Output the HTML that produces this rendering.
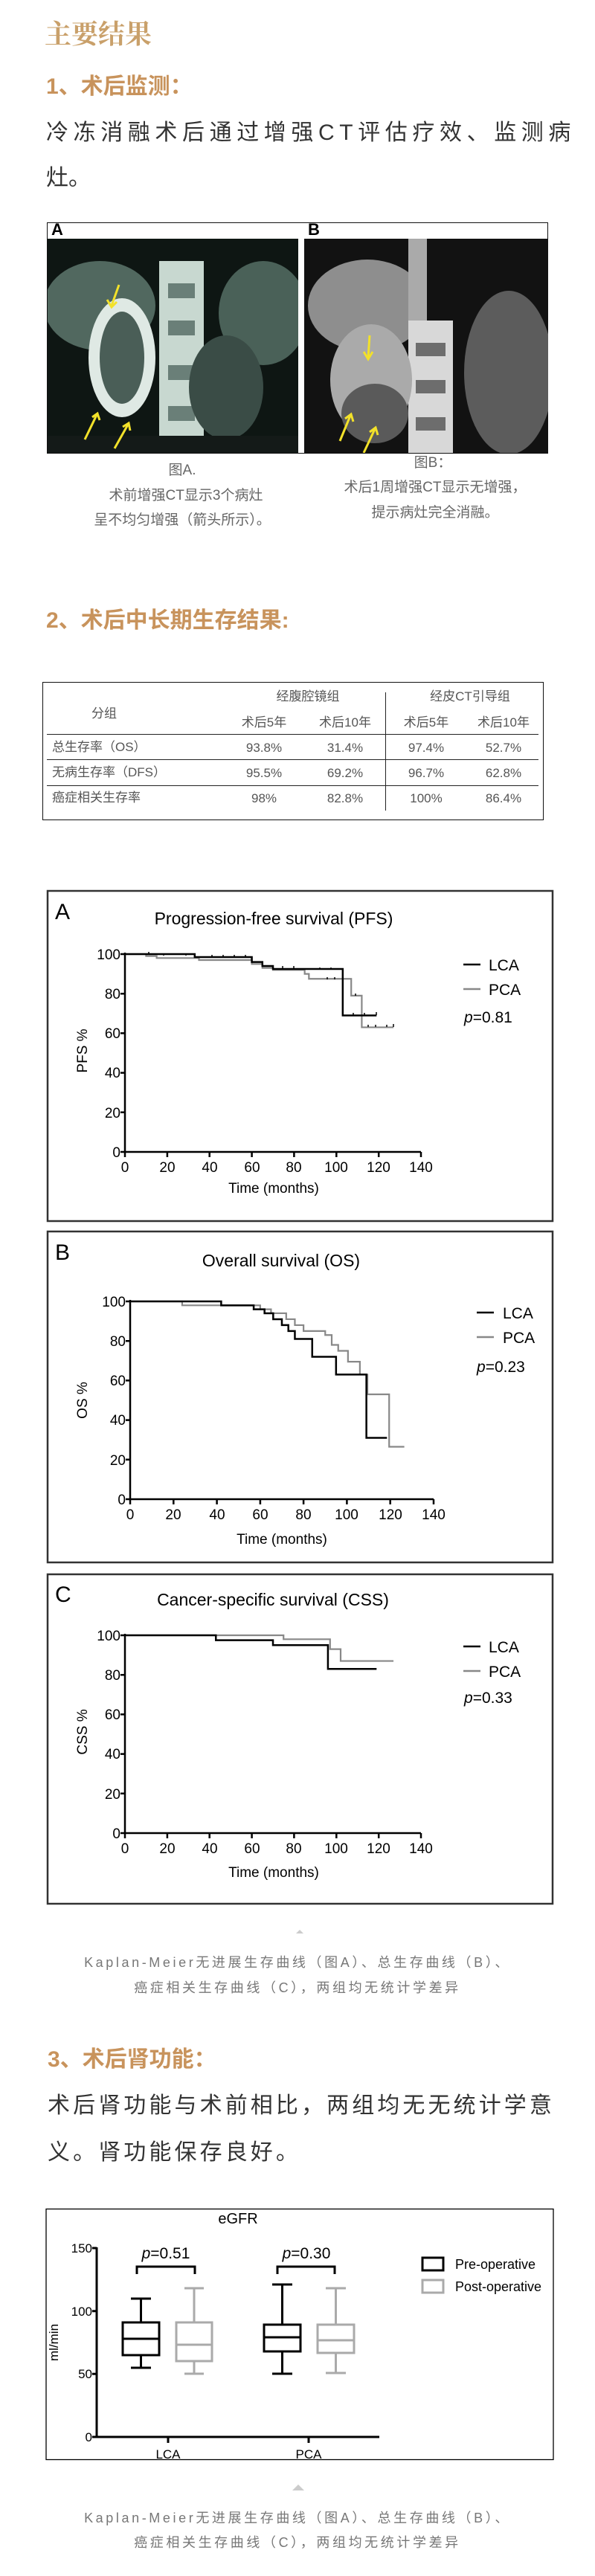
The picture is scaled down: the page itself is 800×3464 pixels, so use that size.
<!DOCTYPE html>
<html><head><meta charset="utf-8">
<style>
*{margin:0;padding:0;box-sizing:border-box}
body{width:800px;height:3464px;background:#fff;position:relative;overflow:hidden;font-family:"Liberation Sans","Noto Sans CJK SC",sans-serif}
.a{position:absolute;white-space:nowrap}
.h{color:#c8935c;font-weight:bold;font-family:"Liberation Sans","Noto Sans CJK SC",sans-serif}
.body{color:#333;font-size:30px;line-height:30px}
.cap{color:#666;font-size:19px;line-height:20px;text-align:center}
.cap2{color:#777;font-size:18px;line-height:18px;letter-spacing:3.6px;text-align:center;left:0;width:800px}
.tb{color:#555;font-size:17px;line-height:18px}
</style></head><body>

<div class="a" style="left:60px;top:25px;font-size:36px;line-height:38px;color:#c9a06a;font-weight:bold;font-family:'Noto Serif CJK SC',serif">主要结果</div>
<div class="a h" style="left:62px;top:101px;font-size:30px;line-height:32px">1、术后监测：</div>
<div class="a body" style="left:62px;top:164px;letter-spacing:6.6px">冷冻消融术后通过增强CT评估疗效、监测病</div>
<div class="a body" style="left:62px;top:225px">灶。</div>

<!-- CT images -->
<div class="a" style="left:63px;top:299px;width:674px;height:311px;border:1.5px solid #111;background:#fff"></div>
<div class="a" style="left:69px;top:296px;font:bold 22px/26px 'Liberation Sans',sans-serif">A</div>
<div class="a" style="left:414px;top:296px;font:bold 22px/26px 'Liberation Sans',sans-serif">B</div>
<svg class="a" style="left:64px;top:321px" width="337" height="288" viewBox="0 0 337 288">
<rect width="337" height="288" fill="#0e1613"/>
<ellipse cx="70" cy="90" rx="75" ry="60" fill="#51685f"/>
<ellipse cx="290" cy="100" rx="60" ry="70" fill="#4a6158"/>
<rect x="150" y="30" width="60" height="258" fill="#c8d8d0"/>
<rect x="162" y="60" width="36" height="20" fill="#6a7f78"/><rect x="162" y="110" width="36" height="20" fill="#6a7f78"/><rect x="162" y="170" width="36" height="20" fill="#6a7f78"/><rect x="162" y="225" width="36" height="20" fill="#6a7f78"/>
<ellipse cx="100" cy="160" rx="45" ry="80" fill="#dfe9e4"/>
<ellipse cx="100" cy="160" rx="30" ry="62" fill="#4a5e57"/>
<ellipse cx="240" cy="200" rx="50" ry="70" fill="#3a4c46"/>
<rect x="0" y="265" width="337" height="23" fill="#141a18"/>
<g stroke="#f2e12a" stroke-width="3" fill="none"><path d="M96 62 L86 90 M80 82 L86 92 L93 85"/><path d="M50 270 L66 237 M60 240 L67 235 L70 244"/><path d="M90 282 L108 250 M101 253 L109 248 L111 258"/></g>
</svg>
<svg class="a" style="left:409px;top:321px" width="328" height="288" viewBox="0 0 328 288">
<rect width="328" height="288" fill="#121212"/>
<ellipse cx="85" cy="90" rx="80" ry="62" fill="#8e8e8e"/>
<ellipse cx="275" cy="180" rx="60" ry="110" fill="#5c5c5c"/>
<rect x="140" y="0" width="25" height="120" fill="#aaa"/>
<rect x="140" y="110" width="60" height="178" fill="#d8d8d8"/>
<rect x="150" y="140" width="40" height="18" fill="#6d6d6d"/><rect x="150" y="190" width="40" height="18" fill="#6d6d6d"/><rect x="150" y="240" width="40" height="18" fill="#6d6d6d"/>
<ellipse cx="90" cy="190" rx="55" ry="75" fill="#aaa"/>
<ellipse cx="95" cy="235" rx="45" ry="40" fill="#5a5a5a"/>
<g stroke="#f2e12a" stroke-width="3" fill="none"><path d="M88 130 L86 160 M80 152 L86 162 L92 152"/><path d="M48 272 L62 238 M55 242 L63 236 L66 246"/><path d="M80 288 L95 256 M88 260 L96 254 L99 264"/></g>
</svg>
<div class="a cap" style="left:145px;top:623px;width:200px">图A.</div>
<div class="a cap" style="left:100px;top:657px;width:300px">术前增强CT显示3个病灶</div>
<div class="a cap" style="left:90px;top:690px;width:310px">呈不均匀增强（箭头所示）。</div>
<div class="a cap" style="left:482px;top:613px;width:200px">图B：</div>
<div class="a cap" style="left:430px;top:646px;width:310px">术后1周增强CT显示无增强，</div>
<div class="a cap" style="left:430px;top:680px;width:310px">提示病灶完全消融。</div>

<div class="a h" style="left:62px;top:819px;font-size:30px;line-height:32px">2、术后中长期生存结果:</div>

<!-- table -->
<div class="a" style="left:57px;top:917px;width:674px;height:186px;border:1.5px solid #111"></div>
<div class="a" style="left:63px;top:987px;width:661px;border-top:1.2px solid #222"></div>
<div class="a" style="left:63px;top:1021px;width:661px;border-top:1.2px solid #222"></div>
<div class="a" style="left:63px;top:1056px;width:661px;border-top:1.2px solid #222"></div>
<div class="a" style="left:518px;top:931px;height:159px;border-left:1.2px solid #222"></div>
<div class="a tb" style="left:364px;top:928px;width:100px;text-align:center">经腹腔镜组</div>
<div class="a tb" style="left:572px;top:928px;width:120px;text-align:center">经皮CT引导组</div>
<div class="a tb" style="left:110px;top:951px;width:60px;text-align:center">分组</div>
<div class="a tb" style="left:315px;top:963px;width:80px;text-align:center">术后5年</div>
<div class="a tb" style="left:424px;top:963px;width:80px;text-align:center">术后10年</div>
<div class="a tb" style="left:533px;top:963px;width:80px;text-align:center">术后5年</div>
<div class="a tb" style="left:637px;top:963px;width:80px;text-align:center">术后10年</div>
<div class="a tb" style="left:70px;top:996px">总生存率（OS）</div>
<div class="a tb" style="left:70px;top:1030px">无病生存率（DFS）</div>
<div class="a tb" style="left:70px;top:1064px">癌症相关生存率</div>
<div class="a tb" style="left:315px;top:997px;width:80px;text-align:center">93.8%</div>
<div class="a tb" style="left:424px;top:997px;width:80px;text-align:center">31.4%</div>
<div class="a tb" style="left:533px;top:997px;width:80px;text-align:center">97.4%</div>
<div class="a tb" style="left:637px;top:997px;width:80px;text-align:center">52.7%</div>
<div class="a tb" style="left:315px;top:1031px;width:80px;text-align:center">95.5%</div>
<div class="a tb" style="left:424px;top:1031px;width:80px;text-align:center">69.2%</div>
<div class="a tb" style="left:533px;top:1031px;width:80px;text-align:center">96.7%</div>
<div class="a tb" style="left:637px;top:1031px;width:80px;text-align:center">62.8%</div>
<div class="a tb" style="left:315px;top:1065px;width:80px;text-align:center">98%</div>
<div class="a tb" style="left:424px;top:1065px;width:80px;text-align:center">82.8%</div>
<div class="a tb" style="left:533px;top:1065px;width:80px;text-align:center">100%</div>
<div class="a tb" style="left:637px;top:1065px;width:80px;text-align:center">86.4%</div>

<!-- KM charts -->
<svg class="a" style="left:0;top:0" width="800" height="2600" viewBox="0 0 800 2600" font-family="Liberation Sans, Arial, sans-serif">
<g fill="none" stroke="#333" stroke-width="2.5">
<rect x="64" y="1198" width="679" height="444"/>
<rect x="64" y="1656" width="679" height="445"/>
<rect x="64" y="2117" width="679" height="443"/>
</g>
<!-- Panel A -->
<text x="74" y="1236" font-size="30">A</text>
<text x="368" y="1243" font-size="23" text-anchor="middle">Progression-free survival (PFS)</text>
<g stroke="#000" stroke-width="2.5" fill="none"><path d="M168 1281 V1549 H566"/>
<path d="M162 1283H168M162 1336.2H168M162 1389.4H168M162 1442.6H168M162 1495.8H168M162 1549H168"/>
<path d="M168 1549v7M224.9 1549v7M281.7 1549v7M338.6 1549v7M395.4 1549v7M452.3 1549v7M509.2 1549v7M566 1549v7"/></g>
<g font-size="19" text-anchor="end"><text x="162" y="1290">100</text><text x="162" y="1343">80</text><text x="162" y="1396">60</text><text x="162" y="1449">40</text><text x="162" y="1503">20</text><text x="162" y="1556">0</text></g>
<g font-size="19" text-anchor="middle"><text x="168" y="1576">0</text><text x="225" y="1576">20</text><text x="282" y="1576">40</text><text x="339" y="1576">60</text><text x="395" y="1576">80</text><text x="452" y="1576">100</text><text x="509" y="1576">120</text><text x="566" y="1576">140</text></g>
<text x="368" y="1604" font-size="19" text-anchor="middle">Time (months)</text>
<text transform="translate(117,1413) rotate(-90)" font-size="19" text-anchor="middle">PFS %</text>
<g transform="translate(168,1549) scale(2.843,-2.66)" fill="none">
<path vector-effect="non-scaling-stroke" stroke="#888" stroke-width="2.2" d="M0 100H10V99H15V98H35V97H60V95H65V93H70V92H85V90H87V87.5H107V79H112V63H127"/>
<path vector-effect="non-scaling-stroke" stroke="#000" stroke-width="2.5" d="M0 100H33V98.5H60V96H65V94H70V92.5H103V69H119"/>
</g>
<g stroke="#000" stroke-width="1.5"><path d="M200 1283v-3M220 1285v-3M250 1285v-3M285 1287v-3M300 1287v-3M315 1287v-3M330 1287v-3M380 1302v-3M395 1302v-3M430 1304v-3M445 1304v-3M475 1365v-3M490 1365v-3M506 1365v-4M495 1381v-3M505 1381v-3M520 1381v-3M529 1381v-4M478 1339v-3M450 1317v-3M440 1317v-3"/></g>
<path d="M623 1297h23" stroke="#000" stroke-width="2.5"/><path d="M623 1330h23" stroke="#888" stroke-width="2.5"/>
<text x="657" y="1305" font-size="21">LCA</text><text x="657" y="1338" font-size="21">PCA</text>
<text x="624" y="1375" font-size="21"><tspan font-style="italic">p</tspan>=0.81</text>

<!-- Panel B -->
<text x="74" y="1694" font-size="30">B</text>
<text x="378" y="1703" font-size="23" text-anchor="middle">Overall survival (OS)</text>
<g stroke="#000" stroke-width="2.5" fill="none"><path d="M175 1748 V2016 H583"/>
<path d="M169 1750H175M169 1803.2H175M169 1856.4H175M169 1909.6H175M169 1962.8H175M169 2016H175"/>
<path d="M175 2016v7M233.3 2016v7M291.6 2016v7M349.9 2016v7M408.1 2016v7M466.4 2016v7M524.7 2016v7M583 2016v7"/></g>
<g font-size="19" text-anchor="end"><text x="169" y="1757">100</text><text x="169" y="1810">80</text><text x="169" y="1863">60</text><text x="169" y="1916">40</text><text x="169" y="1970">20</text><text x="169" y="2023">0</text></g>
<g font-size="19" text-anchor="middle"><text x="175" y="2043">0</text><text x="233" y="2043">20</text><text x="292" y="2043">40</text><text x="350" y="2043">60</text><text x="408" y="2043">80</text><text x="466" y="2043">100</text><text x="525" y="2043">120</text><text x="583" y="2043">140</text></g>
<text x="379" y="2076" font-size="19" text-anchor="middle">Time (months)</text>
<text transform="translate(117,1883) rotate(-90)" font-size="19" text-anchor="middle">OS %</text>
<g transform="translate(175,2016) scale(2.914,-2.66)" fill="none">
<path vector-effect="non-scaling-stroke" stroke="#888" stroke-width="2.2" d="M0 100H24V98H60V96H65V94H72V91H76V88H80V85H90V83H93V78H96V75H100.5V69.5H106V63H109.5V53H119.5V26.5H126.5"/>
<path vector-effect="non-scaling-stroke" stroke="#000" stroke-width="2.5" d="M0 100H42V98H57V96H62V94H66V91H70V88H73V85H76V81H84V72H95V63H109V31H118.5"/>
</g>
<path d="M641 1765h23" stroke="#000" stroke-width="2.5"/><path d="M641 1798h23" stroke="#888" stroke-width="2.5"/>
<text x="676" y="1773" font-size="21">LCA</text><text x="676" y="1806" font-size="21">PCA</text>
<text x="641" y="1845" font-size="21"><tspan font-style="italic">p</tspan>=0.23</text>

<!-- Panel C -->
<text x="74" y="2154" font-size="30">C</text>
<text x="367" y="2159" font-size="23" text-anchor="middle">Cancer-specific survival (CSS)</text>
<g stroke="#000" stroke-width="2.5" fill="none"><path d="M168 2197 V2465 H566"/>
<path d="M162 2199H168M162 2252.2H168M162 2305.4H168M162 2358.6H168M162 2411.8H168M162 2465H168"/>
<path d="M168 2465v7M224.9 2465v7M281.7 2465v7M338.6 2465v7M395.4 2465v7M452.3 2465v7M509.2 2465v7M566 2465v7"/></g>
<g font-size="19" text-anchor="end"><text x="162" y="2206">100</text><text x="162" y="2259">80</text><text x="162" y="2312">60</text><text x="162" y="2365">40</text><text x="162" y="2419">20</text><text x="162" y="2472">0</text></g>
<g font-size="19" text-anchor="middle"><text x="168" y="2492">0</text><text x="225" y="2492">20</text><text x="282" y="2492">40</text><text x="339" y="2492">60</text><text x="395" y="2492">80</text><text x="452" y="2492">100</text><text x="509" y="2492">120</text><text x="566" y="2492">140</text></g>
<text x="368" y="2524" font-size="19" text-anchor="middle">Time (months)</text>
<text transform="translate(117,2329) rotate(-90)" font-size="19" text-anchor="middle">CSS %</text>
<g transform="translate(168,2465) scale(2.843,-2.66)" fill="none">
<path vector-effect="non-scaling-stroke" stroke="#888" stroke-width="2.2" d="M0 100H75V98H97V93H102V87H127"/>
<path vector-effect="non-scaling-stroke" stroke="#000" stroke-width="2.5" d="M0 100H43V97.5H70V95H96V83H119"/>
</g>
<path d="M623 2214h23" stroke="#000" stroke-width="2.5"/><path d="M623 2247h23" stroke="#888" stroke-width="2.5"/>
<text x="657" y="2222" font-size="21">LCA</text><text x="657" y="2255" font-size="21">PCA</text>
<text x="624" y="2290" font-size="21"><tspan font-style="italic">p</tspan>=0.33</text>
<!-- triangle -->
<path d="M395 2603 L403 2595 L411 2603 Z" fill="#ccc"/>
</svg>

<div class="a cap2" style="top:2630px">Kaplan-Meier无进展生存曲线（图A）、总生存曲线（B）、</div>
<div class="a cap2" style="top:2664px">癌症相关生存曲线（C），两组均无统计学差异</div>

<div class="a h" style="left:64px;top:2754px;font-size:30px;line-height:32px">3、术后肾功能：</div>
<div class="a body" style="left:64px;top:2817px;letter-spacing:4.1px">术后肾功能与术前相比，两组均无无统计学意</div>
<div class="a body" style="left:64px;top:2880px;letter-spacing:4.1px">义。肾功能保存良好。</div>

<!-- eGFR chart -->
<svg class="a" style="left:0;top:2960px" width="800" height="504" viewBox="0 2960 800 504" font-family="Liberation Sans, Arial, sans-serif">
<rect x="62" y="2970.5" width="682" height="337" fill="none" stroke="#000" stroke-width="1.3"/>
<text x="320" y="2990" font-size="20" text-anchor="middle">eGFR</text>
<g stroke="#000" stroke-width="3" fill="none"><path d="M130 3022 V3277 H510"/>
<path d="M124 3023H130M124 3107.7H130M124 3192.3H130M124 3277H130M226 3277v8M415 3277v8"/>
<path d="M184 3058 V3048 H262 V3058M373 3058 V3048 H450 V3058"/></g>
<g font-size="17" text-anchor="end"><text x="124" y="3029">150</text><text x="124" y="3114">100</text><text x="124" y="3198">50</text><text x="124" y="3283">0</text></g>
<text x="226" y="3306" font-size="17" text-anchor="middle">LCA</text>
<text x="415" y="3306" font-size="17" text-anchor="middle">PCA</text>
<text transform="translate(78,3150) rotate(-90)" font-size="17" text-anchor="middle">ml/min</text>
<text x="223" y="3037" font-size="21" text-anchor="middle"><tspan font-style="italic">p</tspan>=0.51</text>
<text x="412" y="3037" font-size="21" text-anchor="middle"><tspan font-style="italic">p</tspan>=0.30</text>
<!-- y(v)=3277-1.693v -->
<g stroke="#000" stroke-width="3" fill="none">
<rect x="165" y="3123" width="49" height="44"/><path d="M165 3145H214M189.5 3123V3091M176 3091H203M189.5 3167V3184M176 3184H203"/>
<rect x="355" y="3126" width="49" height="36"/><path d="M355 3143H404M379.5 3126V3072M366 3072H393M379.5 3162V3192M366 3192H393"/>
<rect x="568" y="3036" width="28" height="17"/>
</g>
<g stroke="#aaa" stroke-width="3" fill="none">
<rect x="237" y="3123" width="48" height="52"/><path d="M237 3153H285M261 3123V3077M248 3077H274M261 3175V3192M248 3192H274"/>
<rect x="427" y="3126" width="49" height="38"/><path d="M427 3147H476M451.5 3126V3077M438 3077H465M451.5 3164V3191M438 3191H465"/>
<rect x="568" y="3066" width="28" height="17"/>
</g>
<text x="612" y="3051" font-size="18">Pre-operative</text>
<text x="612" y="3081" font-size="18">Post-operative</text>
<path d="M393 3349 L401 3341 L409 3349 Z" fill="#ccc"/>
</svg>
<div class="a cap2" style="top:3377px">Kaplan-Meier无进展生存曲线（图A）、总生存曲线（B）、</div>
<div class="a cap2" style="top:3410px">癌症相关生存曲线（C），两组均无统计学差异</div>
</body></html>
